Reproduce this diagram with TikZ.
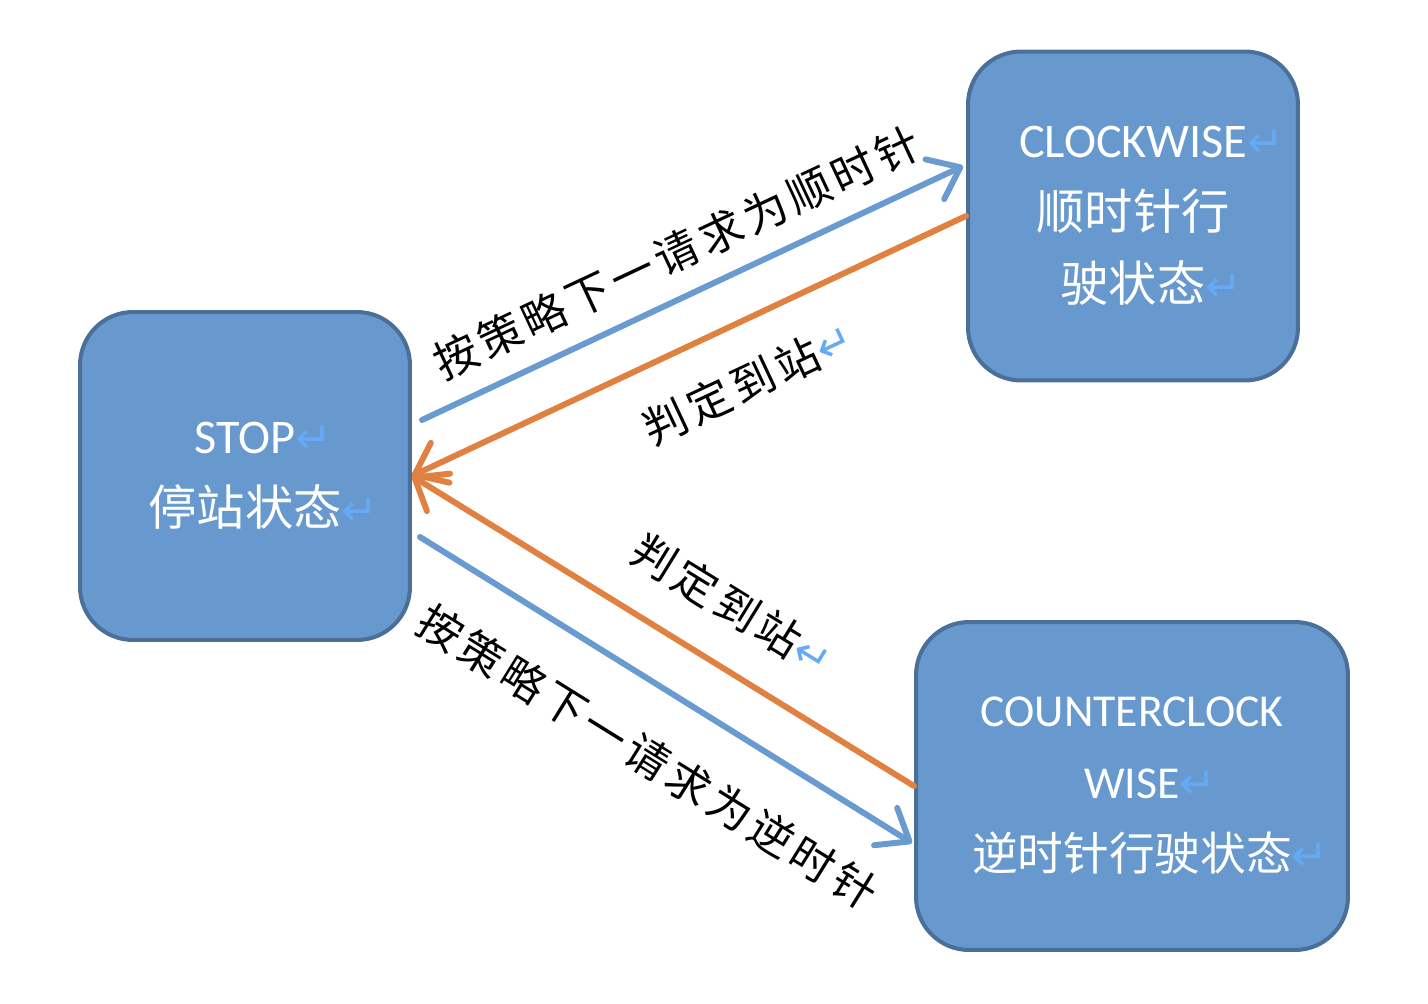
\documentclass[tikz,border=0pt]{standalone}
\usepackage{fontspec}
\setmainfont{Carlito}
\newfontfamily\cjk{Noto Sans CJK SC}
\newfontfamily\lblfont[LetterSpace=11]{Noto Sans CJK SC}
\newfontfamily\symfont{DejaVu Sans}
\usetikzlibrary{arrows.meta}

\definecolor{boxfill}{RGB}{104,153,206}
\definecolor{boxline}{RGB}{74,111,152}
\definecolor{arrblue}{RGB}{106,155,208}
\definecolor{arrorange}{RGB}{225,129,65}
\definecolor{retblue}{RGB}{100,170,245}

% 段落标记
\newcommand{\ret}{\rlap{\textcolor{retblue}{\symfont\fontsize{25}{25}\selectfont ↵}}}

\begin{document}
\begin{tikzpicture}[x=0.02cm, y=-0.02cm,
    state/.style={draw=boxline, fill=boxfill, line width=2.3pt, rounded corners=1.06cm,
      text=white, align=center, inner sep=0pt, font=\fontsize{27.5}{41}\selectfont},
    go/.style={arrblue, line width=3.4pt, line cap=round,
      -{Straight Barb[length=16pt,width=25pt,round]}},
    back/.style={arrorange, line width=3.4pt, line cap=round,
      -{Straight Barb[length=16pt,width=25pt,round]}},
    lbl/.style={sloped, inner sep=0pt, text=black, font=\lblfont\fontsize{25}{25}\selectfont}]
  \useasboundingbox (0,0) rectangle (1428,1004);

  % 三个状态
  \node[state, minimum width=6.6cm, minimum height=6.56cm] (stop) at (245,476)
    {STOP\ret\\{\cjk 停站状态}\ret};
  \node[state, minimum width=6.6cm, minimum height=6.58cm] (cw) at (1133,216)
    {CLOCKWISE\ret\\{\cjk 顺时针行}\\{\cjk 驶状态}\ret};
  \node[state, minimum width=8.64cm, minimum height=6.56cm,
    font=\fontsize{26}{41}\selectfont] (ccw) at (1132,786)
    {COUNTERCLOCK\\WISE\ret\\{\cjk 逆时针行驶状态}\ret};

  % 状态转移
  \draw[go] ([shift={(10,-56)}]stop.east) -- ([shift={(-3,-50)}]cw.west)
    node[lbl, pos=.505, above=11.4pt] (tocw) {按策略下一请求为顺时针};
  \draw[back] (cw.west) -- (stop.east)
    node[lbl, pos=.469, below=19.9pt] (cwstop) {判定到站\ret};
  \draw[back] (ccw.west) -- (stop.east)
    node[lbl, pos=.454, above=19.9pt] (ccwstop) {判定到站\ret};
  \draw[go] ([shift={(8,61)}]stop.east) -- ([shift={(-2,57)}]ccw.west)
    node[lbl, pos=.534, below=24.4pt] (toccw) {按策略下一请求为逆时针};
\end{tikzpicture}
\end{document}
